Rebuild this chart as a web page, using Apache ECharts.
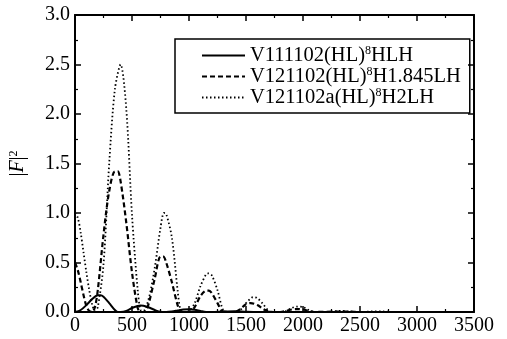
<!DOCTYPE html>
<html>
<head>
<meta charset="utf-8">
<script src="https://cdn.jsdelivr.net/npm/echarts@6/dist/echarts.min.js"></script>
<style>html,body{margin:0;padding:0;background:#fff}#c{width:507px;height:339px}</style>
</head>
<body>
<div id="c"></div>
<script>
// ---- data ----
const seriesNames = ['V111102(HL)^8HLH', 'V121102(HL)^8H1.845LH', 'V121102a(HL)^8H2LH'];
const xTicks = [0, 500, 1000, 1500, 2000, 2500, 3000, 3500];
const yTicks = [0.0, 0.5, 1.0, 1.5, 2.0, 2.5, 3.0];

const solidX = [0,50,100,150,200,225,250,300,350,375,400,450,500,550,575,600,650,700,750,800,850,900,950,1000,1050,1100,1150,1200,1300,1400,1500,1600,1800,2000,2500,3000,3500];
const solidY = [0,0.02,0.07,0.13,0.17,0.17,0.155,0.09,0.02,0,0,0.01,0.04,0.06,0.065,0.063,0.045,0.02,0.002,0,0.005,0.015,0.025,0.028,0.022,0.01,0,0,0.005,0.008,0.003,0,0,0,0,0,0];

const dashedX = [0,25,50,75,100,125,150,175,200,250,300,350,375,400,450,500,550,575,600,625,650,700,750,775,800,850,900,925,950,1000,1050,1100,1150,1175,1200,1250,1290,1350,1400,1450,1500,1540,1600,1650,1700,1800,1850,1900,1950,2000,2050,2100,2300,2400,2500,3000,3500];
const dashedY = [0.5,0.42,0.3,0.17,0.06,0.01,0,0.05,0.22,0.78,1.22,1.42,1.42,1.32,0.9,0.4,0.04,0,0,0.02,0.1,0.34,0.56,0.56,0.5,0.3,0.07,0.01,0,0,0.05,0.16,0.215,0.215,0.19,0.09,0.01,0,0,0.03,0.08,0.09,0.07,0.03,0.005,0,0.01,0.025,0.03,0.025,0.01,0,0.005,0.005,0,0,0];

const dottedX = [0,25,50,75,100,125,150,175,200,250,300,350,400,450,500,550,575,600,650,700,750,780,800,850,900,925,950,1000,1050,1100,1150,1170,1200,1250,1300,1350,1400,1450,1500,1550,1570,1600,1650,1700,1750,1800,1850,1900,1950,2000,2050,2100,2200,2300,2350,2400,2500,2600,2700,2800,3000,3500];
const dottedY = [1,0.95,0.8,0.6,0.4,0.22,0.08,0.01,0.05,0.48,1.5,2.25,2.5,2.05,0.98,0.22,0.02,0.01,0.15,0.45,0.85,1,0.99,0.75,0.22,0.02,0,0.01,0.09,0.26,0.38,0.39,0.37,0.22,0.02,0,0,0.02,0.09,0.145,0.15,0.14,0.08,0.01,0,0,0.01,0.04,0.055,0.05,0.02,0,0,0.01,0.012,0.005,0,0.005,0.005,0,0,0];

function pairs(xs, ys) { return xs.map((x, i) => [x, ys[i]]); }

const FONT = 'Liberation Serif';
const chart = echarts.init(document.getElementById('c'), null, {renderer: 'canvas'});

function legendFmt(name) {
  const parts = name.split('^');
  const a = parts[0];
  const sup = parts[1].charAt(0);
  const rest = parts[1].slice(1);
  return '{t|' + a + '}{s|' + sup + '}{t|' + rest + '}';
}

const axisCommon = {
  axisLine: {show: true, onZero: false, lineStyle: {color: '#000', width: 2}},
  axisTick: {show: true, inside: true, length: 6, lineStyle: {color: '#000', width: 1.5}},
  minorTick: {show: true, splitNumber: 2, length: 3, lineStyle: {color: '#000', width: 1.2}},
  splitLine: {show: false}
};

const option = {
  backgroundColor: '#fff',
  animation: false,
  grid: {left: 72, right: 33, top: 15, bottom: 27},
  legend: {
    orient: 'vertical',
    left: 175, top: 39,
    padding: [6, 9, 5, 26],
    itemGap: 0,
    itemWidth: 43, itemHeight: 20,
    borderColor: '#000', borderWidth: 1.5,
    selectedMode: false,
    itemStyle: {opacity: 0, borderWidth: 0},
    formatter: legendFmt,
    textStyle: {
      color: '#000', fontFamily: FONT, fontSize: 20.5,
      rich: {
        t: {fontFamily: FONT, fontSize: 20.5, color: '#000'},
        s: {fontFamily: FONT, fontSize: 12, color: '#000', verticalAlign: 'top', padding: [0, 0, 8, 0]}
      }
    },
    data: seriesNames
  },
  xAxis: [
    Object.assign({}, axisCommon, {
      type: 'value', min: xTicks[0], max: xTicks[xTicks.length - 1], interval: 500, position: 'bottom',
      axisLabel: {color: '#000', fontFamily: FONT, fontSize: 20, margin: 4, formatter: v => String(v)}
    }),
    Object.assign({}, axisCommon, {
      type: 'value', min: xTicks[0], max: xTicks[xTicks.length - 1], interval: 500, position: 'top',
      axisLabel: {show: false}
    })
  ],
  yAxis: [
    Object.assign({}, axisCommon, {
      type: 'value', min: yTicks[0], max: yTicks[yTicks.length - 1], interval: 0.5, position: 'left',
      axisLabel: {color: '#000', fontFamily: FONT, fontSize: 20, margin: 5, formatter: v => v.toFixed(1)},
      name: '{n||}{i|F}{n||}{s|2}',
      nameLocation: 'middle', nameRotate: 90, nameGap: 47,
      nameTextStyle: {
        color: '#000',
        rich: {
          n: {fontFamily: FONT, fontSize: 20, color: '#000'},
          i: {fontFamily: FONT, fontSize: 20, fontStyle: 'italic', color: '#000'},
          s: {fontFamily: FONT, fontSize: 12, color: '#000', verticalAlign: 'top', padding: [0, 0, 8, 0]}
        }
      }
    }),
    Object.assign({}, axisCommon, {
      type: 'value', min: yTicks[0], max: yTicks[yTicks.length - 1], interval: 0.5, position: 'right',
      axisLabel: {show: false}
    })
  ],
  series: [
    {name: seriesNames[0], type: 'line', xAxisIndex: 0, yAxisIndex: 0, data: pairs(solidX, solidY),
     smooth: 0.3, showSymbol: false, symbol: 'none', lineStyle: {color: '#000', width: 2, type: 'solid'}, itemStyle: {color: '#000'}},
    {name: seriesNames[1], type: 'line', xAxisIndex: 0, yAxisIndex: 0, data: pairs(dashedX, dashedY),
     smooth: 0.3, showSymbol: false, symbol: 'none', lineStyle: {color: '#000', width: 2.2, type: [5, 3]}, itemStyle: {color: '#000'}},
    {name: seriesNames[2], type: 'line', xAxisIndex: 0, yAxisIndex: 0, data: pairs(dottedX, dottedY),
     smooth: 0.3, showSymbol: false, symbol: 'none', lineStyle: {color: '#000', width: 1.8, type: [1.5, 2.5]}, itemStyle: {color: '#000'}}
  ]
};
chart.setOption(option);
</script>
</body>
</html>
